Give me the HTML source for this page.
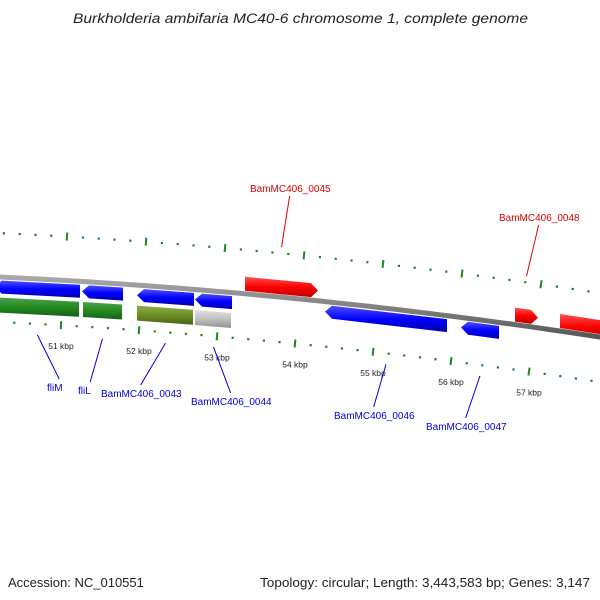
<!DOCTYPE html>
<html><head><meta charset="utf-8"><style>
body{margin:0;background:#fff}
svg{display:block;font-family:"Liberation Sans",sans-serif}
</style></head><body>
<svg id="map" width="600" height="600" viewBox="0 0 600 600">
<defs>
<linearGradient id="gR" x1="0" y1="0" x2="0" y2="1"><stop offset="0" stop-color="#ff5050"/><stop offset="0.5" stop-color="#f00"/><stop offset="1" stop-color="#b00"/></linearGradient>
<linearGradient id="gB" x1="0" y1="0" x2="0" y2="1"><stop offset="0" stop-color="#5050ff"/><stop offset="0.5" stop-color="#00f"/><stop offset="1" stop-color="#0000b0"/></linearGradient>
<linearGradient id="gG" x1="0" y1="0" x2="0" y2="1"><stop offset="0" stop-color="#50a050"/><stop offset="0.5" stop-color="#228b22"/><stop offset="1" stop-color="#176017"/></linearGradient>
<linearGradient id="gO" x1="0" y1="0" x2="0" y2="1"><stop offset="0" stop-color="#8fae50"/><stop offset="0.5" stop-color="#6b8e23"/><stop offset="1" stop-color="#4a6318"/></linearGradient>
<linearGradient id="gY" x1="0" y1="0" x2="0" y2="1"><stop offset="0" stop-color="#e0e0e0"/><stop offset="0.5" stop-color="#c0c0c0"/><stop offset="1" stop-color="#909090"/></linearGradient>
<linearGradient id="gK" x1="0" y1="0" x2="0" y2="1"><stop offset="0" stop-color="#aaa"/><stop offset="0.5" stop-color="#808080"/><stop offset="1" stop-color="#555"/></linearGradient>
</defs>
<text x="73" y="23" textLength="455" lengthAdjust="spacingAndGlyphs" font-size="13.5" font-style="italic" fill="#222">Burkholderia ambifaria MC40-6 chromosome 1, complete genome</text>
<text x="8" y="587" font-size="13" fill="#222">Accession: NC_010551</text>
<text x="260" y="587" font-size="13" fill="#222" textLength="330" lengthAdjust="spacingAndGlyphs">Topology: circular; Length: 3,443,583 bp; Genes: 3,147</text>
</svg>
<script>
const tickKbp=[50,51,52,53,54,55,56,57,58];
const geneNames=["fliM","fliL","BamMC406_0043","BamMC406_0044","BamMC406_0046","BamMC406_0047","BamMC406_0045","BamMC406_0048",""];
const geneStarts=[50150,51269,51974,52718,54385,56128,53359,56821,57397];
const geneEnds=[51244,51795,52705,53192,55949,56615,54295,57115,58400];
const geneStrand=[-1,-1,-1,-1,-1,-1,1,1,1];
const cogIdx=[0,1,2,3];
const cogFill=["gG","gG","gO","gY"];
const labelIdx=[0,1,2,3,4,5,6,7];
const labelX=[47,78,101,191,334,426,250,499];
const labelY=[391,394,397,405,419,430,192,221];

const NS="http://www.w3.org/2000/svg";
const svg=document.getElementById('map');
function el(t,a){const e=document.createElementNS(NS,t);for(const k in a)e.setAttribute(k,a[k]);svg.appendChild(e);return e;}
function X(bp){return 61+78*(bp-51000)/1000;}
function Xo(bp){return 67+79*(bp-51000)/1000;}
function Y(x){return 277+0.0467*x+0.0000889*x*x;}
function ang(x){return Math.atan(0.0467+2*0.0000889*x);}

let d="";for(let x=-10;x<=610;x+=10){d+=(x==-10?"M":"L")+x+","+Y(x).toFixed(1);}
const bb=el('path',{d:d,stroke:"url(#gK)",fill:"none","stroke-width":5});



for(let bp=50000;bp<=58600;bp+=200){
  const major=bp%1000===0;
  [[Xo,-44,'outer'],[X,45,'inner']].forEach(([f,off,ring])=>{
    const x=f(bp);if(x<-5||x>605)return;const y=Y(x)+off;
    let t;
    if(major){const a=ang(x);const dx=-Math.sin(a)*4,dy=Math.cos(a)*4;
      t=el('line',{x1:x-dx,y1:y-dy,x2:x+dx,y2:y+dy,stroke:"#1a8a1a","stroke-width":2});
    } else t=el('rect',{x:x-1,y:y-1,width:2.2,height:2.2,fill:"#1a8a1a"});
    
    
  });
}
tickKbp.forEach(k=>{
  const x=X(k*1000);if(x<0||x>600)return;
  const t=el('text',{x:x,y:Y(x)+69,"font-size":8.5,fill:"#222","text-anchor":"middle"});
  t.textContent=k+" kbp";
  
  
});

function gene(x1,x2,off,h,strand,fill,arrow){
  const hh=h/2,tip=arrow?7:0;const pts=[];
  function p(x,o){pts.push(x.toFixed(1)+","+(Y(x)+off+o).toFixed(1));}
  if(strand>0){p(x1,-hh);p(x2-tip,-hh);p(x2,0);p(x2-tip,hh);p(x1,hh);}
  else{p(x1+tip,-hh);p(x2,-hh);p(x2,hh);p(x1+tip,hh);p(x1,0);}
  return el('polygon',{points:pts.join(" "),fill:"url(#"+fill+")"});
}
geneStarts.forEach((s,i)=>{
  const g=gene(X(s),X(geneEnds[i]),geneStrand[i]>0?-10:10,geneStrand[i]>0?14:13,geneStrand[i],geneStrand[i]>0?"gR":"gB",true);
  
  
});
cogIdx.forEach((gi,j)=>{
  const g=gene(X(geneStarts[gi])+(j==1?1:0),X(geneEnds[gi])-1,28,15,1,cogFill[j],false);
  
  
});
labelIdx.forEach((gi,j)=>{
  const fwd=geneStrand[gi]>0;const col=fwd?"#e00000":"#0000e0";
  const gx=(X(geneStarts[gi])+X(geneEnds[gi]))/2;
  const tw=geneNames[gi].length*6.1;const tx=labelX[j]+tw/2;
  let ln;
  if(fwd){ln=el('line',{x1:tx,y1:labelY[j]+4,x2:gx,y2:Y(gx)-50,stroke:col,"stroke-width":1});}
  else{ln=el('line',{x1:gx,y1:Y(gx)+56,x2:tx,y2:labelY[j]-12,stroke:col,"stroke-width":1});}
  
  
  const t=el('text',{x:labelX[j],y:labelY[j],"font-size":10,fill:col});
  t.textContent=geneNames[gi];
  
  
});
</script>
</body></html>
